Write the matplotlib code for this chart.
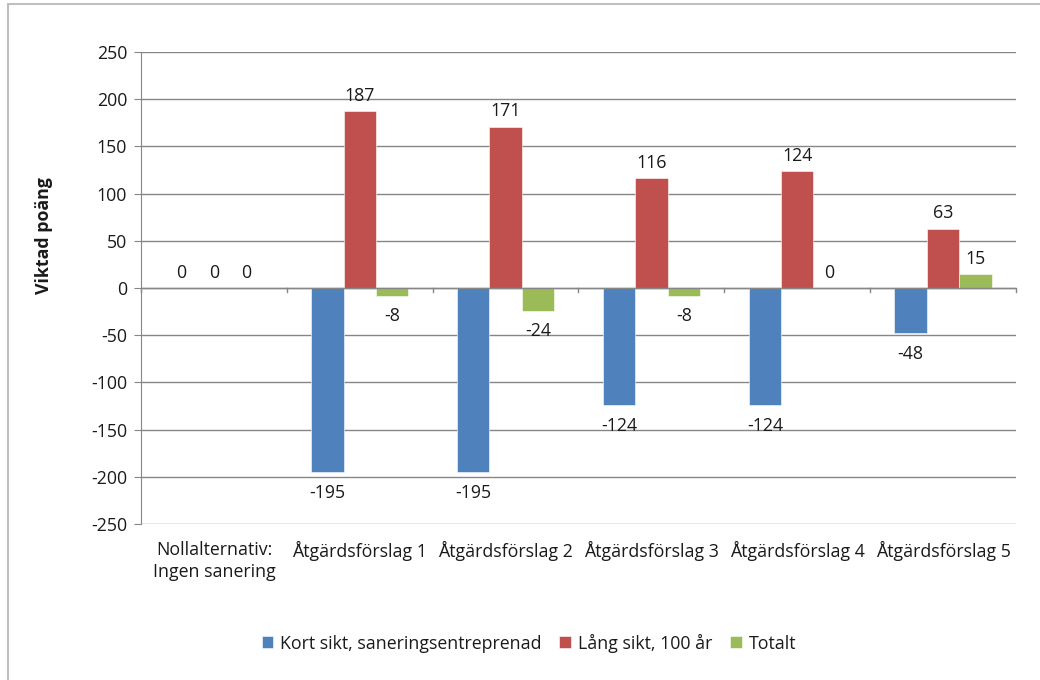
import matplotlib
matplotlib.use("Agg")
import matplotlib.pyplot as plt
import numpy as np
from matplotlib.patches import Rectangle

plt.rcParams['font.family'] = ['Open Sans', 'DejaVu Sans']

categories = ["Nollalternativ:\nIngen sanering", "Åtgärdsförslag 1", "Åtgärdsförslag 2",
              "Åtgärdsförslag 3", "Åtgärdsförslag 4", "Åtgärdsförslag 5"]
series_names = ["Kort sikt, saneringsentreprenad", "Lång sikt, 100 år", "Totalt"]
kort_sikt = [0, -195, -195, -124, -124, -48]
lang_sikt = [0, 187, 171, 116, 124, 63]
totalt = [0, -8, -24, -8, 0, 15]
colors = ["#4F81BD", "#C0504D", "#9BBB59"]
y_ticks = [-250, -200, -150, -100, -50, 0, 50, 100, 150, 200, 250]

FS = 12.8
TXT = "#1a1a1a"
GRID = "#868686"

fig = plt.figure(figsize=(10.4, 6.8), dpi=100)
ax = fig.add_axes([141/1040, 1 - 524/680, (1016 - 141)/1040, (524 - 52)/680])

# outer chart border
fig.patches.append(Rectangle((8/1040, -0.05), 1.1, 1 - 4/680 + 0.05, transform=fig.transFigure,
                             fill=False, edgecolor="#BFBFBF", linewidth=1.5))

x = np.arange(len(categories))
w = 1 / 4.5
for i, (vals, c, name) in enumerate(zip([kort_sikt, lang_sikt, totalt], colors, series_names)):
    pos = x + (i - 1) * w
    ax.bar(pos, vals, width=w, color=c, label=name, zorder=3,
           edgecolor="#ffffff", linewidth=0.4)
    for p, v in zip(pos, vals):
        if v < 0:
            ax.annotate(f"{v}", (p, v), xytext=(0, -8.5), textcoords="offset points",
                        ha="center", va="top", fontsize=FS, color=TXT)
        else:
            ax.annotate(f"{v}", (p, v), xytext=(0, 4.5), textcoords="offset points",
                        ha="center", va="bottom", fontsize=FS, color=TXT)

ax.set_xlim(-0.5, len(categories) - 0.5)
ax.set_ylim(-250, 250)
ax.set_yticks(y_ticks)
ax.set_yticklabels([str(t) for t in y_ticks], fontsize=FS, color=TXT)
ax.grid(axis="y", color=GRID, linewidth=1, zorder=0)
ax.tick_params(axis="y", length=5, color=GRID, pad=5)
for s in ["top", "right", "bottom"]:
    ax.spines[s].set_visible(False)
ax.spines["left"].set_color(GRID)

# category axis drawn along zero with ticks between groups
ax.set_xticks([])
ax.axhline(0, color=GRID, linewidth=1, zorder=4)
for b in np.arange(-0.5, len(categories), 1.0):
    ax.plot([b, b], [0, -4.5], color=GRID, linewidth=1, zorder=4, clip_on=False)
for xi, cat in zip(x, categories):
    ax.text(xi, -268, cat, ha="center", va="top", fontsize=FS, color=TXT,
            linespacing=1.3)

ax.set_ylabel("Viktad poäng", fontsize=FS, fontweight="bold", color=TXT)
ax.yaxis.set_label_coords(-0.101, 0.612)

leg = fig.legend(loc="center", bbox_to_anchor=(529/1040, 1 - 643/680), ncol=3, frameon=False,
                 fontsize=FS, handlelength=0.65, handleheight=0.65, handletextpad=0.4,
                 columnspacing=1.0)
for t in leg.get_texts():
    t.set_color(TXT)

fig.savefig("out.png", dpi=100)
